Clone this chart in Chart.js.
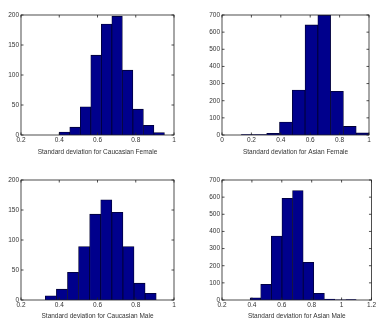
<!DOCTYPE html>
<html lang="en">
<head>
<meta charset="UTF-8">
<title>Standard deviation histograms</title>
<script src="https://cdn.jsdelivr.net/npm/chart.js"></script>
<style>
  body { margin: 0; background: #fff; }
  #wrap { position: relative; width: 377px; height: 322px; }
  .panel { position: absolute; }
</style>
</head>
<body>
<div id="wrap">
  <div class="panel" style="left:0;top:0;width:188px;height:160px"><canvas id="cf"></canvas></div>
  <div class="panel" style="left:188px;top:0;width:189px;height:160px"><canvas id="af"></canvas></div>
  <div class="panel" style="left:0;top:160px;width:188px;height:162px"><canvas id="cm"></canvas></div>
  <div class="panel" style="left:188px;top:160px;width:189px;height:162px"><canvas id="am"></canvas></div>
</div>

<script>
// bin centres and counts
const cfBins   = [0.4275, 0.4825, 0.5375, 0.5925, 0.6475, 0.7025, 0.7575, 0.8125, 0.8675, 0.9225];
const cfCounts = [5, 13, 47, 133, 185, 198, 108, 43, 16, 4];

const afBins   = [0.1735, 0.2605, 0.3475, 0.4345, 0.5215, 0.6085, 0.6955, 0.7825, 0.8695, 0.9565];
const afCounts = [2, 3, 10, 75, 262, 642, 700, 255, 50, 12];

const cmBins   = [0.356, 0.414, 0.472, 0.530, 0.588, 0.646, 0.704, 0.762, 0.820, 0.878];
const cmCounts = [7, 18, 46, 89, 143, 167, 146, 89, 28, 11];

const amBins   = [0.4235, 0.4945, 0.5655, 0.6365, 0.7075, 0.7785, 0.8495, 0.9205, 0.9915, 1.0625];
const amCounts = [13, 91, 373, 593, 638, 220, 39, 5, 1, 3];

const xTicksCaucasian = [0.2, 0.4, 0.6, 0.8, 1];
const xTicksAsianF    = [0, 0.2, 0.4, 0.6, 0.8, 1];
const xTicksAsianM    = [0.2, 0.4, 0.6, 0.8, 1, 1.2];

const fontFamily = '"Liberation Sans", Arial, sans-serif';
const textColor = '#333';

// matlab style box with inward ticks
const boxPlugin = {
    id: 'box',
    afterDraw(chart) {
        const ctx = chart.ctx;
        const a = chart.chartArea;
        const len = 2.5;
        ctx.save();
        ctx.strokeStyle = '#222';
        ctx.lineWidth = 0.8;
        ctx.strokeRect(a.left, a.top, a.right - a.left, a.bottom - a.top);
        chart.scales.x.ticks.forEach(t => {
            const px = chart.scales.x.getPixelForValue(t.value);
            ctx.beginPath();
            ctx.moveTo(px, a.bottom); ctx.lineTo(px, a.bottom - len);
            ctx.moveTo(px, a.top); ctx.lineTo(px, a.top + len);
            ctx.stroke();
        });
        chart.scales.y.ticks.forEach(t => {
            const py = chart.scales.y.getPixelForValue(t.value);
            ctx.beginPath();
            ctx.moveTo(a.left, py); ctx.lineTo(a.left + len, py);
            ctx.moveTo(a.right, py); ctx.lineTo(a.right - len, py);
            ctx.stroke();
        });
        ctx.restore();
    }
};

function histChart(id, bins, counts, xMin, xMax, xTicks, yMax, yStep, title, yWidth, xHeight, pad) {
    const ctx = document.getElementById(id).getContext('2d');
    new Chart(ctx, {
        type: 'bar',
        data: {
            datasets: [{
                data: bins.map((b, i) => ({ x: b, y: counts[i] })),
                backgroundColor: '#00008c',
                borderColor: '#000030',
                borderWidth: 0.8,
                barPercentage: 1,
                categoryPercentage: 1
            }]
        },
        options: {
            responsive: true,
            maintainAspectRatio: false,
            animation: false,
            layout: { padding: pad },
            plugins: { legend: { display: false }, tooltip: { enabled: false } },
            scales: {
                x: {
                    type: 'linear',
                    min: xMin,
                    max: xMax,
                    offset: false,
                    grid: { display: false, drawTicks: false },
                    border: { display: false },
                    afterBuildTicks: s => { s.ticks = xTicks.map(v => ({ value: v })); },
                    afterFit: s => { s.height = xHeight; },
                    ticks: {
                        autoSkip: false,
                        maxRotation: 0,
                        padding: 1,
                        color: textColor,
                        font: { family: fontFamily, size: 6.5 },
                        callback: v => String(v)
                    },
                    title: {
                        display: true,
                        text: title,
                        color: textColor,
                        font: { family: fontFamily, size: 6.5 },
                        padding: { top: 0, bottom: xHeight > 23 ? 4 : 2 }
                    }
                },
                y: {
                    min: 0,
                    max: yMax,
                    grid: { display: false, drawTicks: false },
                    border: { display: false },
                    afterFit: s => { s.width = yWidth; },
                    ticks: {
                        stepSize: yStep,
                        padding: 2,
                        color: textColor,
                        font: { family: fontFamily, size: 6.5 }
                    }
                }
            }
        },
        plugins: [boxPlugin]
    });
}

histChart('cf', cfBins, cfCounts, 0.2, 1, xTicksCaucasian, 200, 50,
    'Standard deviation for Caucasian Female', 21, 25, { top: 15, right: 14, left: 0, bottom: 0 });
histChart('af', afBins, afCounts, 0, 1, xTicksAsianF, 700, 100,
    'Standard deviation for Asian Female', 34, 25, { top: 15, right: 8, left: 0, bottom: 0 });
histChart('cm', cmBins, cmCounts, 0.2, 1, xTicksCaucasian, 200, 50,
    'Standard deviation for Caucasian Male', 21, 22, { top: 20, right: 14, left: 0, bottom: 0 });
histChart('am', amBins, amCounts, 0.2, 1.2, xTicksAsianM, 700, 100,
    'Standard deviation for Asian Male', 34, 22, { top: 20, right: 4, left: 0, bottom: 0 });
</script>
</body>
</html>
